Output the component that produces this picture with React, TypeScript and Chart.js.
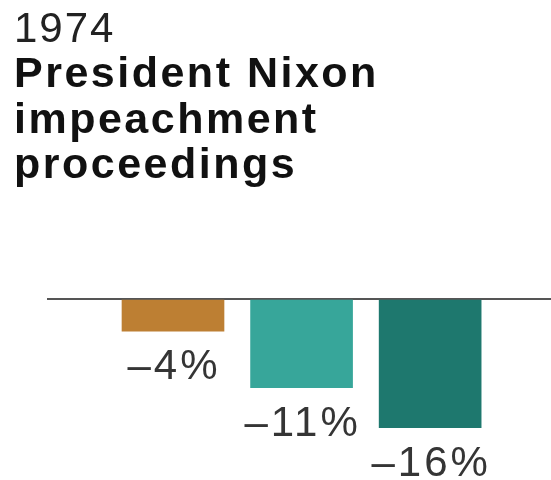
import React, { useEffect, useRef } from "react";
import { Chart, registerables } from "chart.js";

Chart.register(...registerables);

const titleYear = "1974";
const titleLines = ["President Nixon", "impeachment", "proceedings"];
const categories = ["Bar 1", "Bar 2", "Bar 3"];
const values = [-4, -11, -16];
const valueLabels = ["\u20134%", "\u201311%", "\u201316%"];
const barColors = ["#BD7F33", "#37A69A", "#1E786E"];

const FONT = '"Liberation Sans", Arial, Helvetica, sans-serif';

const labelPlugin = {
  id: "valueLabels",
  afterDatasetsDraw(chart: any) {
    const ctx = chart.ctx;
    const meta = chart.getDatasetMeta(0);
    ctx.save();
    ctx.font = `42px ${FONT}`;
    ctx.fillStyle = "#353535";
    ctx.textAlign = "center";
    ctx.textBaseline = "alphabetic";
    try {
      (ctx as any).letterSpacing = "3px";
    } catch (e) {}
    meta.data.forEach((bar: any, i: number) => {
      ctx.fillText(valueLabels[i], bar.x + 1, bar.y + 48);
    });
    ctx.restore();
  },
};

export default function App() {
  const canvasRef = useRef<HTMLCanvasElement | null>(null);

  useEffect(() => {
    if (!canvasRef.current) return;
    const chart = new Chart(canvasRef.current, {
      type: "bar",
      data: {
        labels: categories,
        datasets: [
          {
            label: "Change",
            data: values.map((v, i) => ({ x: i, y: v })),
            backgroundColor: barColors,
            borderWidth: 0,
            barThickness: 102,
          },
        ],
      },
      plugins: [labelPlugin],
      options: {
        animation: false,
        responsive: false,
        maintainAspectRatio: false,
        layout: { padding: { left: 47, right: 0, top: 299, bottom: 52 } },
        plugins: {
          legend: { display: false },
          tooltip: { enabled: false },
          title: { display: false },
        },
        scales: {
          x: {
            type: "linear",
            min: -0.98,
            max: 2.94,
            offset: false,
            display: false,
          },
          y: {
            min: -16,
            max: 0,
            display: true,
            border: { display: false },
            ticks: { display: false, stepSize: 16 },
            grid: {
              drawTicks: false,
              tickLength: 0,
              lineWidth: 2,
              color: (c: any) => (c.tick && c.tick.value === 0 ? "#555555" : "rgba(0,0,0,0)"),
            },
          },
        },
      },
    });
    return () => chart.destroy();
  }, []);

  return (
    <div style={{ position: "absolute", left: 0, top: 0, width: 551, height: 480, background: "#fff", overflow: "hidden" }}>
      <canvas ref={canvasRef} width={551} height={480} style={{ position: "absolute", left: 0, top: 0, width: 551, height: 480 }} />
      <div style={{ position: "absolute", left: 14, top: 7, fontFamily: FONT, fontSize: 42, lineHeight: "42px", letterSpacing: 2, color: "#222", whiteSpace: "nowrap" }}>
        {titleYear}
      </div>
      <div style={{ position: "absolute", left: 14, top: 50, fontFamily: FONT, fontSize: 43, lineHeight: "45.5px", fontWeight: 700, letterSpacing: 2.5, color: "#111" }}>
        {titleLines.map((t) => (
          <div key={t} style={{ whiteSpace: "nowrap" }}>{t}</div>
        ))}
      </div>
    </div>
  );
}
